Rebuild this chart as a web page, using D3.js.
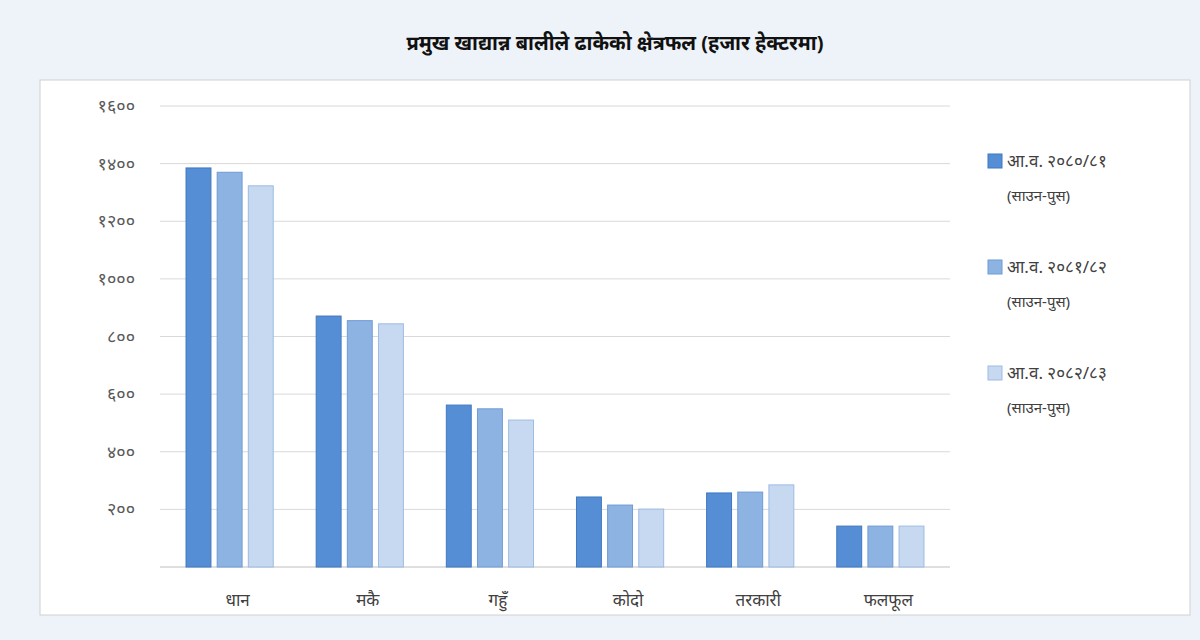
<!DOCTYPE html>
<html><head><meta charset="utf-8">
<script src="https://cdn.jsdelivr.net/npm/d3@7"></script>
<style>body{margin:0;background:#eef3f9;}svg{display:block;font-family:"Noto Sans","Noto Sans CJK SC",sans-serif;}</style>
</head><body><svg id="c" width="1200" height="640"></svg>
<script>
const categories=["धान","मकै","गहुँ","कोदो","तरकारी","फलफूल"];
const seriesNames=["आ.व. २०८०/८१","आ.व. २०८१/८२","आ.व. २०८२/८३"];
const seriesSub=["(साउन-पुस)","(साउन-पुस)","(साउन-पुस)"];
const s1=[1385,871,562,243,257,142];
const s2=[1370,855,549,215,260,142];
const s3=[1323,844,510,201,285,142];
const yTicks=[200,400,600,800,1000,1200,1400,1600];
const yTickLabels=["२००","४००","६००","८००","१०००","१२००","१४००","१६००"];
const colors=["#558ed5","#8db3e2","#c6d9f1"];
const strokes=["#3f78c0","#6f9bd4","#9dbbe3"];
const series=[s1,s2,s3];

const svg=d3.select("#c");
svg.append("rect").attr("x",40).attr("y",80).attr("width",1150).attr("height",535).attr("fill","#fff").attr("stroke","#d0d0d0");
svg.append("text").attr("x",615).attr("y",50).attr("text-anchor","middle").attr("font-size",20).attr("font-weight","bold").attr("fill","#111").text("प्रमुख खाद्यान्न बालीले ढाकेको क्षेत्रफल (हजार हेक्टरमा)");

const y=d3.scaleLinear().domain([0,1600]).range([567,106]);
const x=d3.scaleBand().domain(categories).range([160,950]).paddingInner(0.33).paddingOuter(0.2);
const xs=d3.scaleBand().domain([0,1,2]).range([0,x.bandwidth()]).paddingInner(0.2);

const g=svg.append("g");
g.selectAll("line.grid").data(yTicks).join("line").attr("x1",160).attr("x2",950)
 .attr("y1",d=>y(d)).attr("y2",d=>y(d)).attr("stroke","#d9d9d9");
g.append("line").attr("x1",160).attr("x2",950).attr("y1",y(0)).attr("y2",y(0)).attr("stroke","#bfbfbf");
g.selectAll("text.yt").data(yTicks).join("text").attr("x",135).attr("y",d=>y(d)+6)
 .attr("text-anchor","end").attr("font-size",18).attr("fill","#595959").text((d,i)=>yTickLabels[i]);

series.forEach((s,si)=>{
 g.selectAll("rect.s"+si).data(s).join("rect")
  .attr("x",(d,i)=>x(categories[i])+xs(si)).attr("width",xs.bandwidth())
  .attr("y",d=>y(d)).attr("height",d=>y(0)-y(d))
  .attr("fill",colors[si]).attr("stroke",strokes[si]).attr("stroke-width",1);
});
g.selectAll("text.xl").data(categories).join("text")
 .attr("x",d=>x(d)+x.bandwidth()/2+8).attr("y",606).attr("text-anchor","middle")
 .attr("font-size",17).attr("fill","#404040").text(d=>d);

const lg=svg.append("g");
seriesNames.forEach((n,i)=>{
 const yy=162+i*106;
 lg.append("rect").attr("x",988).attr("y",yy-8).attr("width",14).attr("height",14).attr("fill",colors[i]).attr("stroke",strokes[i]);
 lg.append("text").attr("x",1007).attr("y",yy+5).attr("font-size",17).attr("fill","#404040").text(n);
 lg.append("text").attr("x",1007).attr("y",yy+39).attr("font-size",15).attr("fill","#404040").text(seriesSub[i]);
});
</script></body></html>
